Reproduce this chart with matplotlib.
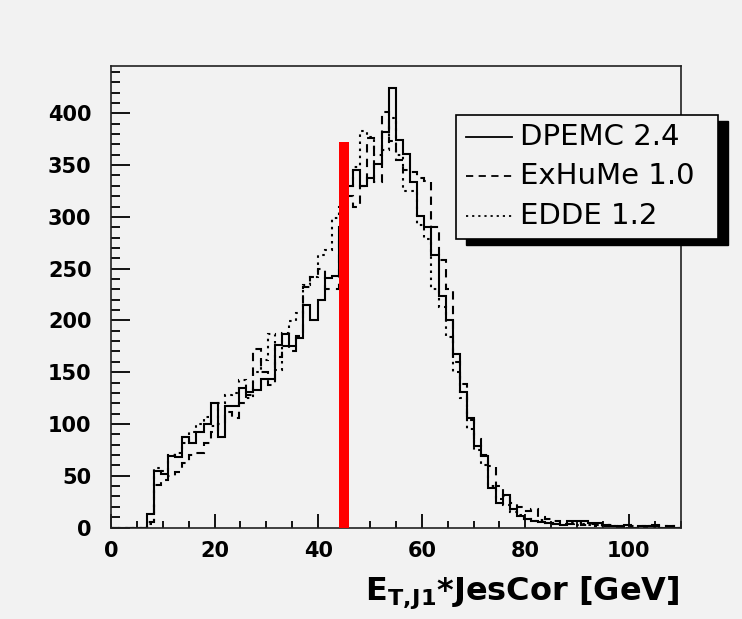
import numpy as np
import matplotlib
matplotlib.use("Agg")
import matplotlib.pyplot as plt
from matplotlib.patches import Rectangle
from matplotlib.lines import Line2D
from matplotlib.ticker import MultipleLocator

# binning: 80 bins between 0 and 110 GeV
x_lo, x_hi, n_bins = 0.0, 110.0, 80
first_bin = 5

# bin contents, starting at bin 5 (6.9 GeV)
dpemc = [13, 55, 52, 69, 68, 87, 82, 92, 100, 120, 87, 117, 117, 135, 131,
         133, 143, 143, 176, 187, 175, 183, 215, 200, 220, 241, 243, 290, 330,
         345, 330, 338, 351, 382, 424, 374, 361, 334, 301, 290, 263, 224, 200,
         168, 131, 106, 79, 69, 38, 24, 31, 18, 11, 8, 6, 5, 4, 3, 2, 6, 6, 6,
         4, 4, 2, 1, 0, 2, 0, 1, 1, 2, 0, 1]
exhume = [5, 41, 46, 50, 54, 62, 70, 72, 82, 92, 100, 112, 106, 120, 128,
          172, 150, 138, 165, 175, 170, 185, 232, 242, 250, 230, 230, 280, 320,
          310, 330, 376, 334, 401, 373, 355, 345, 343, 338, 335, 290, 258, 230,
          160, 139, 104, 85, 70, 59, 40, 30, 24, 20, 16, 18, 10, 8, 6, 4, 3, 4,
          2, 3, 2, 1, 2, 1, 1, 0, 1, 0, 1, 0, 0]
edde = [3, 57, 55, 70, 72, 82, 92, 100, 107, 98, 120, 128, 130, 142, 125,
        150, 162, 187, 152, 188, 199, 207, 234, 242, 263, 268, 299, 310, 330,
        348, 383, 377, 360, 365, 395, 360, 325, 325, 292, 279, 230, 213, 184,
        150, 125, 95, 75, 60, 40, 28, 22, 15, 12, 8, 6, 7, 4, 3, 3, 4, 2, 3,
        2, 1, 2, 1, 1, 0, 1, 0, 1, 0, 0, 1]

labels = ["DPEMC 2.4", "ExHuMe 1.0", "EDDE 1.2"]

# red marker
cut_x = 45.0
cut_h = 372.0
cut_w = 1.85


def full_hist(vals):
    h = np.zeros(n_bins)
    h[first_bin:first_bin + len(vals)] = vals
    return h


edges = np.linspace(x_lo, x_hi, n_bins + 1)
bg = "#f2f2f2"

fig = plt.figure(figsize=(7.42, 6.19), dpi=100, facecolor=bg)
ax = fig.add_axes([0.1496, 0.1478, 0.7678, 0.7456], facecolor=bg)

styles = ["-", (0, (4, 3)), (0, (1.2, 2.2))]
handles = []
for vals, ls in zip([dpemc, exhume, edde], styles):
    st = ax.stairs(full_hist(vals), edges, color="black", lw=1.5,
                   linestyle=ls, baseline=0)
    handles.append(st)

ax.bar(cut_x, cut_h, width=cut_w, color="#ff0000", zorder=5)

ax.set_xlim(x_lo, x_hi)
ax.set_ylim(0, 445.7)
ax.xaxis.set_major_locator(MultipleLocator(20))
ax.xaxis.set_minor_locator(MultipleLocator(5))
ax.yaxis.set_major_locator(MultipleLocator(50))
ax.yaxis.set_minor_locator(MultipleLocator(10))
ax.tick_params(axis="x", which="major", direction="in", length=10, width=1.3, pad=10)
ax.tick_params(axis="x", which="minor", direction="in", length=5, width=1.3)
ax.tick_params(axis="y", which="major", direction="in", length=13.5, width=1.3, pad=14)
ax.tick_params(axis="y", which="minor", direction="in", length=6.5, width=1.3)
for lab in ax.get_xticklabels() + ax.get_yticklabels():
    lab.set_fontsize(15)
    lab.set_fontweight("bold")
for s in ax.spines.values():
    s.set_linewidth(1.2)
    s.set_color("#222222")

fig.text(680 / 742, 1 - 600 / 619, r"$\mathbf{E}_{\mathbf{T,\!J1}}$*JesCor [GeV]",
         ha="right", va="baseline", fontsize=23, fontweight="bold")

# legend box with black shadow, drawn in figure pixels
W, H = 742.0, 619.0
bx0, bx1, by0, by1 = 456, 718, 115, 239
fig.patches.append(Rectangle((bx0 / W + 10 / W, 1 - (by1 + 6) / H),
                             (bx1 - bx0) / W, (by1 - by0) / H,
                             transform=fig.transFigure, facecolor="black",
                             edgecolor="black", zorder=10))
fig.patches.append(Rectangle((bx0 / W, 1 - by1 / H),
                             (bx1 - bx0) / W, (by1 - by0) / H,
                             transform=fig.transFigure, facecolor=bg,
                             edgecolor="black", lw=1.2, zorder=11))
rows = [136.7, 176.0, 215.7]
for h, lab, ry in zip(handles, labels, rows):
    fig.lines.append(Line2D([466 / W, 512 / W], [1 - ry / H, 1 - ry / H],
                            transform=fig.transFigure, color="black",
                            lw=1.3, linestyle=h.get_linestyle(), zorder=12))
    fig.text(520 / W, 1 - ry / H, lab, ha="left", va="center",
             fontsize=21, zorder=12)

fig.savefig("out.png", dpi=100, facecolor=bg)
